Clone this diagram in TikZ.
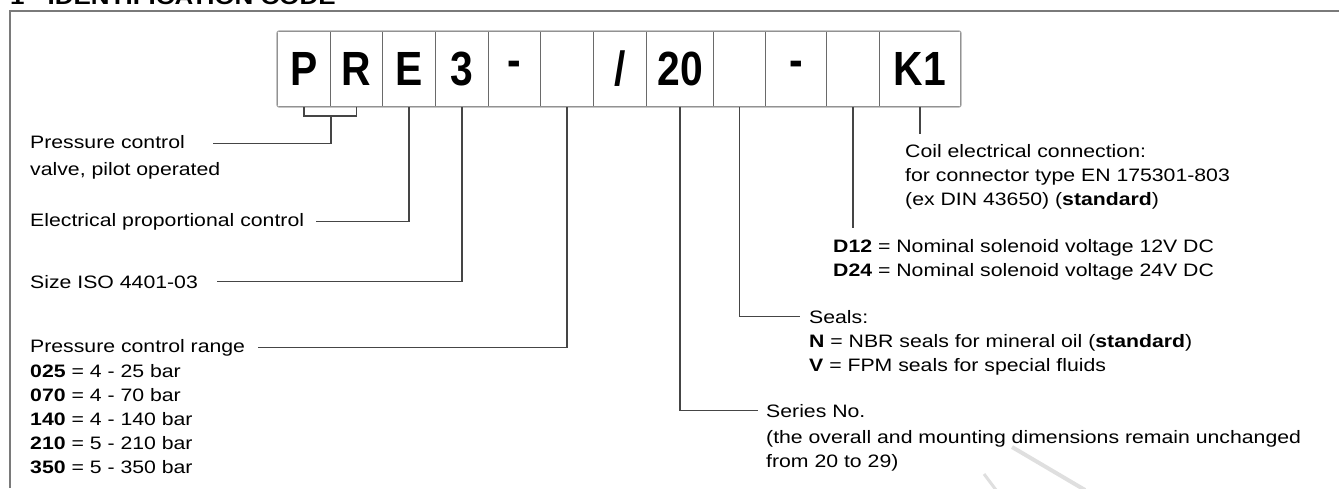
\documentclass[tikz,border=0pt]{standalone}
\usepackage{fontspec}
\setmainfont{Liberation Sans}[FakeStretch=1.18]
\newfontfamily\codefont{Liberation Sans}[FakeStretch=0.85]
\usetikzlibrary{positioning}
\definecolor{framegray}{HTML}{7A7A7A}
\definecolor{boxgray}{HTML}{A8A8A8}
\definecolor{divgray}{HTML}{6A6A6A}
\definecolor{leadgray}{HTML}{454545}
\tikzset{
  codebox/.style={draw=divgray, line width=1pt, minimum width=#1, minimum height=75pt,
    inner sep=0pt, anchor=north west, font=\codefont\fontsize{48}{48}\selectfont\bfseries},
  txt/.style={inner sep=0pt, anchor=base west, font=\fontsize{18}{24}\selectfont},
  lead/.style={draw=leadgray, line width=1.4pt}
}
\begin{document}
\begin{tikzpicture}[x=1pt, y=-1pt]
\useasboundingbox (0,0) rectangle (1339,488);
\clip (0,0) rectangle (1339,488);
% heading, cut off at the top edge
\node[txt, font=\fontsize{22}{24}\selectfont\bfseries] (title) at (10,4) {1 - IDENTIFICATION CODE};
\draw[framegray, line width=2pt] (10,488) -- (10,11) -- (1339,11);
% code boxes
\foreach \n/\x/\w/\ch in {1/277/53/P, 2/330/52/R, 3/382/53/E, 4/435/53/3, 5/488/52/-,
  6/540/53/{}, 7/593/53/{/}, 8/646/67/20, 9/713/52/{}, 10/765/61/-, 11/826/53/{}, 12/879/81/K1} {
  \node[codebox=\w pt] (c\n) at (\x,31) {\ch};
}
\draw[boxgray, line width=1.2pt, rounded corners=2pt] (c1.north west) rectangle (c12.south east);
% left hand notes
\node[txt] (pcv) at (30,148) {Pressure control};
\node[txt] (pcv2) at (30,175) {valve, pilot operated};
\node[txt] (epc) at (30,226) {Electrical proportional control};
\node[txt] (iso) at (30,288) {Size ISO 4401-03};
\node[txt] (rng) at (30,352) {Pressure control range};
\foreach \k/\v [count=\i] in {025/4 - 25, 070/4 - 70, 140/4 - 140, 210/5 - 210, 350/5 - 350} {
  \node[txt] (rng\i) at (30,354+23.8*\i) {\textbf{\k} = \v{} bar};
}
% right hand notes
\node[txt] (coil) at (905,157) {Coil electrical connection:};
\node[txt] (coil2) at (905,181) {for connector type EN 175301-803};
\node[txt] (coil3) at (905,205) {(ex DIN 43650) (\textbf{standard})};
\node[txt] (d12) at (833,252) {\textbf{D12} = Nominal solenoid voltage 12V DC};
\node[txt] (d24) at (833,276) {\textbf{D24} = Nominal solenoid voltage 24V DC};
\node[txt] (seal) at (809,323) {Seals:};
\node[txt] (seal2) at (809,347) {\textbf{N} = NBR seals for mineral oil (\textbf{standard})};
\node[txt] (seal3) at (809,371) {\textbf{V} = FPM seals for special fluids};
\node[txt] (ser) at (766,417) {Series No.};
\node[txt] (ser2) at (766,443) {(the overall and mounting dimensions remain unchanged};
\node[txt] (ser3) at (766,467) {from 20 to 29)};
% leaders
\draw[lead] (c1.south) -- ++(0,9) -| (c2.south);
\draw[lead] ([yshift=-9pt]c1.south east) |- ([xshift=28pt,yshift=-2pt]pcv.east);
\draw[lead] (c3.south) |- ([xshift=12pt]epc.east);
\draw[lead] (c4.south) |- ([xshift=19pt]iso.east);
\draw[lead] (c6.south) |- ([xshift=13pt]rng.east);
\draw[lead] (c8.south) |- ([xshift=-8pt]ser.west);
\draw[lead] (c9.south) |- ([xshift=-9pt]seal.west);
\draw[lead] (c11.south) -- ([yshift=11pt]c11.south |- d12.north);
\draw[lead] (c12.south) -- ([yshift=10pt]c12.south |- coil.north);
% faint marks at the lower right
\draw[gray!25, line width=4pt] (1012,447) -- (1085,490);
\draw[gray!25, line width=3pt] (984,474) -- (996,490);
\end{tikzpicture}
\end{document}
